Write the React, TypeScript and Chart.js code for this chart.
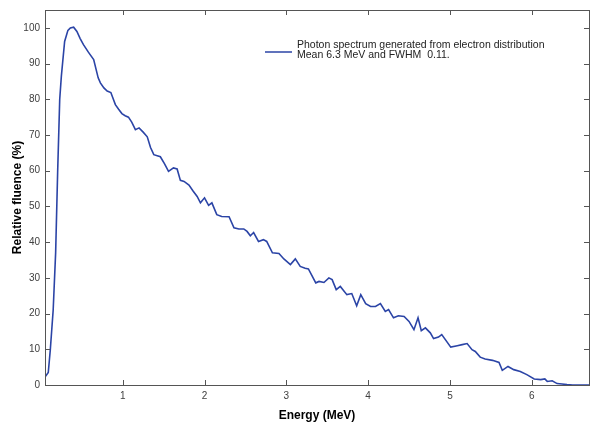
import React, { useEffect, useRef } from "react";
import { Chart, registerables } from "chart.js";

Chart.register(...registerables);

const energies = [
  0.05, 0.09, 0.115, 0.15, 0.18, 0.205, 0.23, 0.25, 0.29, 0.33, 0.36, 0.4, 0.44, 0.48, 0.52, 0.58, 0.645, 0.7,
  0.727, 0.77, 0.81, 0.855, 0.91, 0.95, 0.99, 1.03, 1.07, 1.11, 1.155, 1.2, 1.25, 1.3, 1.34, 1.38, 1.46, 1.51,
  1.56, 1.62, 1.665, 1.705, 1.75, 1.81, 1.86, 1.91, 1.95, 2.0, 2.05, 2.09, 2.15, 2.21, 2.3, 2.36, 2.42, 2.48,
  2.52, 2.56, 2.6, 2.66, 2.72, 2.76, 2.83, 2.91, 2.97, 3.05, 3.11, 3.17, 3.23, 3.27, 3.36, 3.4, 3.46, 3.52,
  3.56, 3.61, 3.66, 3.74, 3.8, 3.86, 3.91, 3.97, 4.03, 4.09, 4.15, 4.21, 4.25, 4.31, 4.37, 4.44, 4.5, 4.56,
  4.61, 4.65, 4.7, 4.76, 4.8, 4.86, 4.9, 5.01, 5.09, 5.15, 5.21, 5.27, 5.31, 5.37, 5.43, 5.52, 5.6, 5.64,
  5.71, 5.78, 5.86, 5.94, 6.03, 6.11, 6.16, 6.19, 6.25, 6.31, 6.37, 6.43, 6.5, 6.7,
];

const fluence = [
  2.2, 3.5, 9.9, 21, 37, 60, 80, 86.5, 96.2, 99.3, 100, 100.2, 99, 97, 95.3, 93.2, 91.1, 86,
  84.6, 83.2, 82.3, 81.9, 78.5, 77.2, 76, 75.4, 75, 73.6, 71.5, 72, 70.8, 69.5, 66.5, 64.5, 63.9, 62,
  59.8, 60.8, 60.5, 57.3, 57, 56, 54.3, 52.8, 51, 52.4, 50.3, 51, 47.7, 47.2, 47.1, 44, 43.7, 43.7,
  43, 41.8, 42.7, 40.2, 40.7, 40.2, 37, 36.8, 35.3, 33.7, 35.3, 33.2, 32.7, 32.5, 28.6, 29, 28.7, 30,
  29.5, 26.7, 27.6, 25.3, 25.6, 22.2, 25.3, 22.8, 22, 22, 22.8, 20.6, 21.1, 18.8, 19.4, 19.2, 17.8, 15.5,
  18.8, 15.2, 16, 14.6, 13, 13.4, 14.1, 10.6, 11, 11.3, 11.6, 9.9, 9.4, 7.8, 7.3, 6.9, 6.3, 4.1,
  5.2, 4.3, 3.8, 2.9, 1.7, 1.5, 1.7, 1.0, 1.2, 0.4, 0.3, 0.1, 0, 0,
];

const xTicks = [1, 2, 3, 4, 5, 6];
const yTicks = [0, 10, 20, 30, 40, 50, 60, 70, 80, 90, 100];
const legendLines = [
  "Photon spectrum generated from electron distribution",
  "Mean 6.3 MeV and FWHM  0.11.",
];
const xTitle = "Energy (MeV)";
const yTitle = "Relative fluence (%)";

const FONT = "'Liberation Sans', Arial, sans-serif";
const LINE_COLOR = "#2b44a6";
const AXIS_COLOR = "#555555";

const boxPlugin = {
  id: "matlabBox",
  afterDraw(chart: any) {
    const { ctx, chartArea } = chart;
    const { left, right, top, bottom } = chartArea;
    const xs = chart.scales.x;
    const ys = chart.scales.y;
    ctx.save();
    ctx.strokeStyle = AXIS_COLOR;
    ctx.lineWidth = 1;
    ctx.strokeRect(Math.round(left) + 0.5, Math.round(top) + 0.5, Math.round(right - left), Math.round(bottom - top));
    const tl = 5;
    ctx.beginPath();
    xTicks.forEach((v) => {
      const px = Math.round(xs.getPixelForValue(v)) + 0.5;
      ctx.moveTo(px, bottom);
      ctx.lineTo(px, bottom - tl);
      ctx.moveTo(px, top);
      ctx.lineTo(px, top + tl);
    });
    yTicks.forEach((v) => {
      const py = Math.round(ys.getPixelForValue(v)) + 0.5;
      ctx.moveTo(left, py);
      ctx.lineTo(left + tl, py);
      ctx.moveTo(right, py);
      ctx.lineTo(right - tl, py);
    });
    ctx.stroke();

    // legend
    const lx = left + 220;
    const ly = top + 35;
    ctx.strokeStyle = LINE_COLOR;
    ctx.lineWidth = 1.5;
    ctx.beginPath();
    ctx.moveTo(lx, ly + 7);
    ctx.lineTo(lx + 27, ly + 7);
    ctx.stroke();
    ctx.fillStyle = "#222222";
    ctx.font = `10.5px ${FONT}`;
    ctx.textBaseline = "middle";
    ctx.textAlign = "left";
    legendLines.forEach((t, i) => {
      ctx.fillText(t, lx + 32, ly + i * 10.5);
    });
    ctx.restore();
  },
};

export default function App() {
  const ref = useRef<HTMLCanvasElement | null>(null);
  useEffect(() => {
    if (!ref.current) return;
    const chart = new Chart(ref.current, {
      type: "line",
      data: {
        datasets: [
          {
            label: legendLines.join(" "),
            data: energies.map((e, i) => ({ x: e, y: fluence[i] })),
            borderColor: LINE_COLOR,
            borderWidth: 1.6,
            pointRadius: 0,
            tension: 0,
            fill: false,
          },
        ],
      },
      options: {
        animation: false,
        responsive: true,
        maintainAspectRatio: false,
        layout: { padding: { top: 10, right: 1, left: 0, bottom: 0 } },
        plugins: { legend: { display: false }, tooltip: { enabled: false } },
        scales: {
          x: {
            type: "linear",
            min: 0.05,
            max: 6.7,
            grid: { display: false, drawTicks: false },
            border: { display: false },
            ticks: {
              padding: 5,
              color: "#404040",
              font: { size: 10, family: FONT },
              maxRotation: 0,
            },
            afterBuildTicks: (s: any) => {
              s.ticks = xTicks.map((v) => ({ value: v }));
            },
            afterFit: (s: any) => {
              s.height = 38;
              s.paddingLeft = 0;
              s.paddingRight = 0;
              s.paddingTop = 0;
              s.paddingBottom = 0;
            },
            title: {
              display: true,
              text: xTitle,
              color: "#000000",
              font: { size: 12, weight: "bold", family: FONT },
              padding: { top: 0, bottom: 0 },
            },
          },
          y: {
            type: "linear",
            min: 0,
            max: 105,
            grid: { display: false, drawTicks: false },
            border: { display: false },
            ticks: {
              padding: 5,
              color: "#404040",
              font: { size: 10, family: FONT },
            },
            afterBuildTicks: (s: any) => {
              s.ticks = yTicks.map((v) => ({ value: v }));
            },
            afterFit: (s: any) => {
              s.width = 45;
              s.paddingLeft = 0;
              s.paddingRight = 0;
              s.paddingTop = 0;
              s.paddingBottom = 0;
            },
            title: {
              display: true,
              text: yTitle,
              color: "#000000",
              font: { size: 12, weight: "bold", family: FONT },
              padding: { top: 10, bottom: 0 },
            },
          },
        },
      },
      plugins: [boxPlugin],
    });
    return () => chart.destroy();
  }, []);
  return (
    <div style={{ position: "fixed", left: 0, top: 0, width: 590, height: 423, background: "#ffffff" }}>
      <canvas ref={ref} />
    </div>
  );
}
